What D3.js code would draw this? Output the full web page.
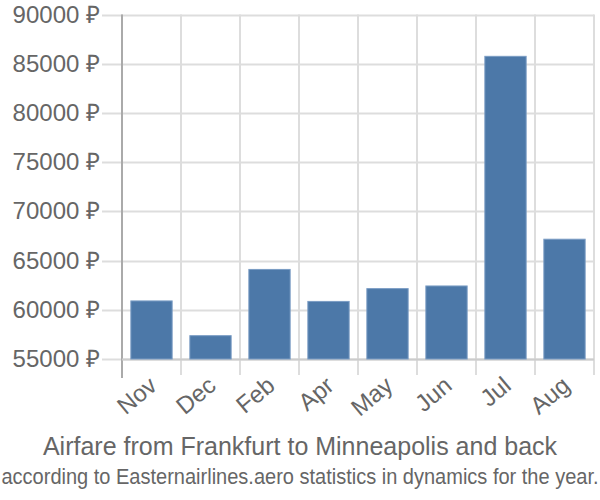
<!DOCTYPE html>
<html>
<head>
<meta charset="utf-8">
<script src="https://cdn.jsdelivr.net/npm/d3@7"></script>
<style>
  body { margin: 0; background: #fff; }
  text { font-family: "Liberation Sans", Arial, sans-serif; fill: #666; }
</style>
</head>
<body>
<svg id="chart" width="600" height="500"></svg>
<script>
// data
var months = ["Nov", "Dec", "Feb", "Apr", "May", "Jun", "Jul", "Aug"];
var prices = [60900, 57370, 64100, 60850, 62150, 62420, 85750, 67170];
var yTicks = [55000, 60000, 65000, 70000, 75000, 80000, 85000, 90000];

var svg = d3.select("#chart");

var plotLeft = 122, plotRight = 594, plotTop = 14.5, plotBottom = 359;

var x = d3.scaleBand()
  .domain(months)
  .range([plotLeft, plotRight])
  .paddingInner(0.3)
  .paddingOuter(0.15);

var y = d3.scaleLinear()
  .domain([55000, 90000])
  .range([plotBottom, plotTop]);

var step = x.step();

//horizontal grid
svg.append("g")
  .selectAll("line")
  .data(yTicks)
  .enter()
  .append("line")
  .attr("x1", plotLeft - 20)
  .attr("x2", plotRight)
  .attr("y1", function(d) { return Math.round(y(d)) + 0.5; })
  .attr("y2", function(d) { return Math.round(y(d)) + 0.5; })
  .attr("stroke", "#ddd")
  .attr("stroke-width", 2);

//vertical grid at band edges
var edges = months.map(function(m) { return x(m) - step * 0.15; });
edges.push(plotRight);
svg.append("g")
  .selectAll("line")
  .data(edges)
  .enter()
  .append("line")
  .attr("x1", function(d) { return Math.round(d); })
  .attr("x2", function(d) { return Math.round(d); })
  .attr("y1", plotTop)
  .attr("y2", plotBottom + 16)
  .attr("stroke", "#ddd")
  .attr("stroke-width", 2);

//axis lines
svg.append("line")
  .attr("x1", plotLeft).attr("x2", plotLeft)
  .attr("y1", plotTop).attr("y2", plotBottom + 19)
  .attr("stroke", "#aaa").attr("stroke-width", 2);

svg.append("line")
  .attr("x1", plotLeft).attr("x2", plotRight)
  .attr("y1", plotBottom + 0.5).attr("y2", plotBottom + 0.5)
  .attr("stroke", "#ccc").attr("stroke-width", 2);

//bars
svg.append("g")
  .selectAll("rect")
  .data(prices)
  .enter()
  .append("rect")
  .attr("x", function(d, i) { return x(months[i]); })
  .attr("width", x.bandwidth())
  .attr("y", function(d) { return y(d); })
  .attr("height", function(d) { return plotBottom - y(d); })
  .attr("fill", "#4c78a8")
  .attr("stroke", "#7a9cc4")
  .attr("stroke-width", 1);

//y labels
svg.append("g")
  .selectAll("text")
  .data(yTicks)
  .enter()
  .append("text")
  .attr("x", 100)
  .attr("y", function(d) { return y(d) + 8; })
  .attr("text-anchor", "end")
  .style("font-size", "24px")
  .text(function(d) { return d + " ₽"; });

//x labels
svg.append("g")
  .selectAll("text")
  .data(months)
  .enter()
  .append("text")
  .attr("text-anchor", "end")
  .style("font-size", "24px")
  .attr("transform", function(d) {
    var cx = x(d) + x.bandwidth() / 2 + 7;
    return "translate(" + cx + "," + (plotBottom + 29) + ") rotate(-40)";
  })
  .text(function(d) { return d; });

//titles
svg.append("text")
  .attr("x", 300)
  .attr("y", 455)
  .attr("text-anchor", "middle")
  .style("font-size", "25px")
  .text("Airfare from Frankfurt to Minneapolis and back");

// subtitle is condensed in the original
svg.append("text")
  .attr("transform", "translate(300,484) scale(0.91,1)")
  .attr("text-anchor", "middle")
  .style("font-size", "22px")
  .text("according to Easternairlines.aero statistics in dynamics for the year.");
</script>
</body>
</html>
